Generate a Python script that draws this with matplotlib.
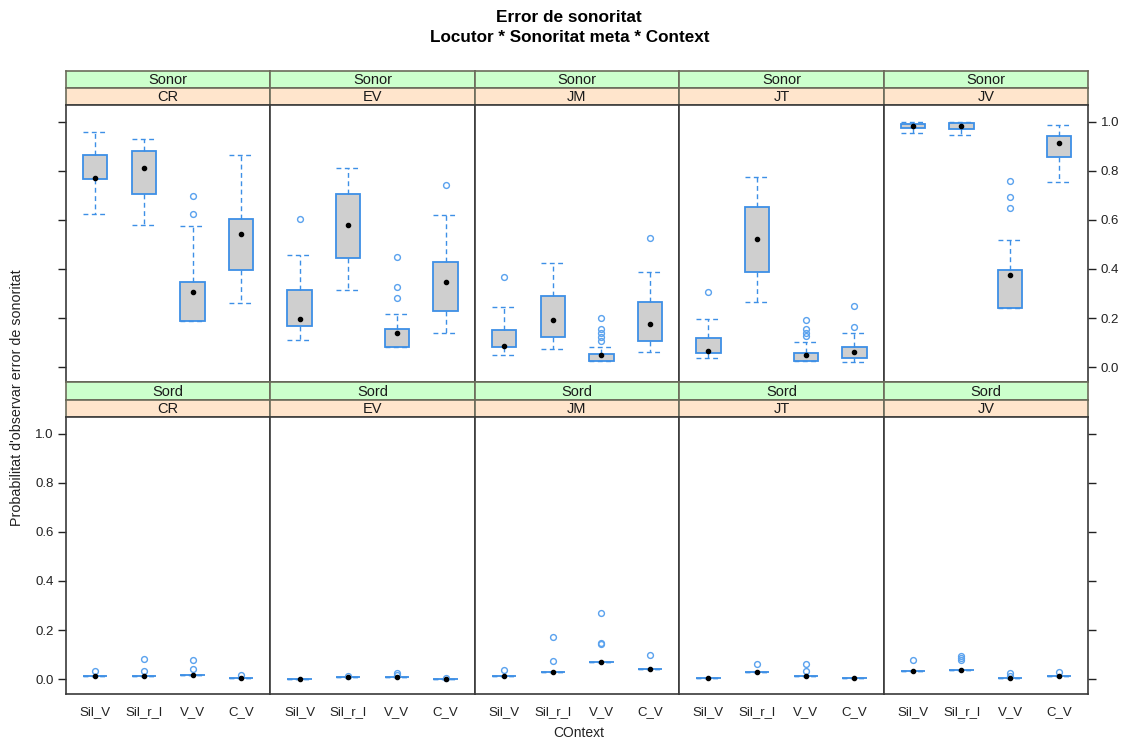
import matplotlib
matplotlib.use("Agg")
import matplotlib.pyplot as plt
from matplotlib.patches import Rectangle

plt.rcParams['font.family'] = ['Liberation Sans', 'DejaVu Sans']

# ---- data -------------------------------------------------------------
speakers = ["CR", "EV", "JM", "JT", "JV"]
contexts = ["Sil_V", "Sil_r_l", "V_V", "C_V"]
conditions = ["Sonor", "Sord"]

# "Sonor" target: five-number summaries per speaker (rows) and context (cols)
sonor_lo = [[0.626, 0.580, 0.189, 0.261],
            [0.109, 0.313, 0.080, 0.139],
            [0.048, 0.073, 0.026, 0.061],
            [0.037, 0.265, 0.026, 0.020],
            [0.954, 0.946, 0.241, 0.754]]
sonor_q1 = [[0.769, 0.706, 0.189, 0.396],
            [0.167, 0.444, 0.080, 0.230],
            [0.080, 0.121, 0.026, 0.106],
            [0.057, 0.386, 0.026, 0.037],
            [0.974, 0.971, 0.241, 0.858]]
sonor_med = [[0.773, 0.810, 0.307, 0.544],
             [0.195, 0.580, 0.140, 0.347],
             [0.086, 0.190, 0.049, 0.176],
             [0.067, 0.522, 0.049, 0.063],
             [0.982, 0.985, 0.377, 0.916]]
sonor_q3 = [[0.865, 0.882, 0.346, 0.604],
            [0.313, 0.705, 0.155, 0.429],
            [0.150, 0.290, 0.054, 0.264],
            [0.117, 0.654, 0.057, 0.083],
            [0.993, 0.996, 0.396, 0.943]]
sonor_hi = [[0.960, 0.931, 0.576, 0.865],
            [0.458, 0.811, 0.218, 0.619],
            [0.243, 0.423, 0.080, 0.389],
            [0.196, 0.776, 0.102, 0.137],
            [1.000, 1.000, 0.517, 0.986]]
sonor_out = [[[], [], [0.698, 0.624], []],
             [[0.605], [], [0.449, 0.325, 0.282], [0.744]],
             [[0.369], [], [0.199, 0.154, 0.137, 0.122, 0.107], [0.525]],
             [[0.307], [], [0.190, 0.154, 0.140, 0.127], [0.249, 0.162]],
             [[], [], [0.759, 0.694, 0.650], []]]

# "Sord" target: all quartiles collapse onto the median
sord_med = [[0.012, 0.013, 0.016, 0.004],
            [0.001, 0.007, 0.007, 0.001],
            [0.011, 0.030, 0.068, 0.041],
            [0.003, 0.027, 0.011, 0.003],
            [0.031, 0.035, 0.004, 0.011]]
sord_out = [[[0.031], [0.031, 0.083], [0.039, 0.079], [0.018]],
            [[], [0.012], [0.018, 0.025], [0.006]],
            [[0.037], [0.072, 0.170], [0.145, 0.149, 0.268], [0.098]],
            [[], [0.061], [0.033, 0.061], []],
            [[0.076], [0.076, 0.086, 0.095], [0.014, 0.023], [0.029]]]

y_ticks = [0.0, 0.2, 0.4, 0.6, 0.8, 1.0]

# ---- styling ----------------------------------------------------------
W, H = 1122, 742
BOX_BLUE = "#3d8fe6"
OUT_BLUE = "#5aa2ee"
FILL = "#cfcfcf"
FRAME = "#3a3a3a"
STRIP_TOP = "#ccffcc"
STRIP_BOT = "#ffe5cc"
STRIP_EDGE = "#6b6b5a"

fig = plt.figure(figsize=(W / 100, H / 100), dpi=100)


def px_axes(x0, y0, x1, y1, **kw):
    return fig.add_axes([x0 / W, 1 - y1 / H, (x1 - x0) / W, (y1 - y0) / H], **kw)


col_edges = [66 + i * (1088 - 66) / 5 for i in range(6)]
rows = [  # (green strip top, orange strip top, panel top, panel bottom)
    (71, 88, 105, 382),
    (382, 400, 417, 694),
]


def draw_strip(x0, x1, y0, y1, color, label):
    sax = px_axes(x0, y0, x1, y1)
    sax.set_xlim(0, 1)
    sax.set_ylim(0, 1)
    sax.add_patch(Rectangle((0, 0), 1, 1, facecolor=color, edgecolor="none"))
    sax.set_xticks([])
    sax.set_yticks([])
    for sp in sax.spines.values():
        sp.set_color(STRIP_EDGE)
        sp.set_linewidth(1.2)
    sax.text(0.5, 0.45, label, ha="center", va="center", fontsize=10.5,
             color="#1a1a1a")


for r, cond in enumerate(conditions):
    gy, oy, py0, py1 = rows[r]
    for c, spk in enumerate(speakers):
        x0, x1 = col_edges[c], col_edges[c + 1]
        draw_strip(x0, x1, gy, oy, STRIP_TOP, cond)
        draw_strip(x0, x1, oy, py0, STRIP_BOT, spk)

        ax = px_axes(x0, py0, x1, py1)
        stats = []
        meds = []
        for k, ctx in enumerate(contexts):
            if cond == "Sonor":
                s = dict(whislo=sonor_lo[c][k], q1=sonor_q1[c][k],
                         med=sonor_med[c][k], q3=sonor_q3[c][k],
                         whishi=sonor_hi[c][k], fliers=sonor_out[c][k])
            else:
                m = sord_med[c][k]
                s = dict(whislo=m, q1=m, med=m, q3=m, whishi=m,
                         fliers=sord_out[c][k])
            stats.append(s)
            meds.append(s["med"])
        pos = list(range(1, len(contexts) + 1))
        ax.bxp(stats, positions=pos, widths=0.5, capwidths=0.5,
               patch_artist=True, showfliers=True,
               boxprops=dict(facecolor=FILL, edgecolor=BOX_BLUE, linewidth=1.3),
               whiskerprops=dict(color=BOX_BLUE, linewidth=1.0,
                                 linestyle=(0, (3.5, 2.5))),
               capprops=dict(color=BOX_BLUE, linewidth=1.0,
                             linestyle=(0, (3.5, 2.5))),
               medianprops=dict(linewidth=0),
               flierprops=dict(marker="o", markerfacecolor="none",
                               markeredgecolor=OUT_BLUE, markersize=4.2,
                               markeredgewidth=1.0, linestyle="none"))
        ax.plot(pos, meds, "o", color="black", markersize=3.0, linestyle="none",
                zorder=5)

        ax.set_xlim(0.4, 4.6)
        ax.set_ylim(-0.061, 1.069)
        for sp in ax.spines.values():
            sp.set_color(FRAME)
            sp.set_linewidth(1.2)

        # x axis: labels only under the bottom row, no tick marks
        if r == 1:
            ax.set_xticks(pos)
            ax.set_xticklabels(contexts, fontsize=9.5, color="#222222")
            ax.tick_params(axis="x", length=0, pad=9)
        else:
            ax.set_xticks([])

        # y axis: alternating labels (left on bottom row, right on top row)
        show_left = c == 0
        show_right = c == len(speakers) - 1
        ax.set_yticks(y_ticks if (show_left or show_right) else [])
        ax.tick_params(axis="y", direction="out", length=6, width=1.0,
                       color="#222222", labelsize=9.5, labelcolor="#222222",
                       left=show_left, right=show_right,
                       labelleft=show_left and r == 1,
                       labelright=show_right and r == 0, pad=3)
        ax.set_yticklabels([f"{v:.1f}" for v in y_ticks] if (show_left or show_right) else [])

# ---- titles and axis labels ------------------------------------------
fig.text(569 / W, 1 - 17.5 / H, "Error de sonoritat", ha="center", va="center",
         fontsize=12.4, fontweight="bold")
fig.text(570 / W, 1 - 38 / H, "Locutor * Sonoritat meta * Context",
         ha="center", va="center", fontsize=12.3, fontweight="bold")
fig.text(579 / W, 1 - 733 / H, "COntext", ha="center", va="center",
         fontsize=10, color="#222222")
fig.text(17 / W, 1 - 398 / H, "Probabilitat d'observar error de sonoritat",
         ha="center", va="center", rotation=90, fontsize=10.3, color="#222222")

fig.savefig("out.png", dpi=100)
